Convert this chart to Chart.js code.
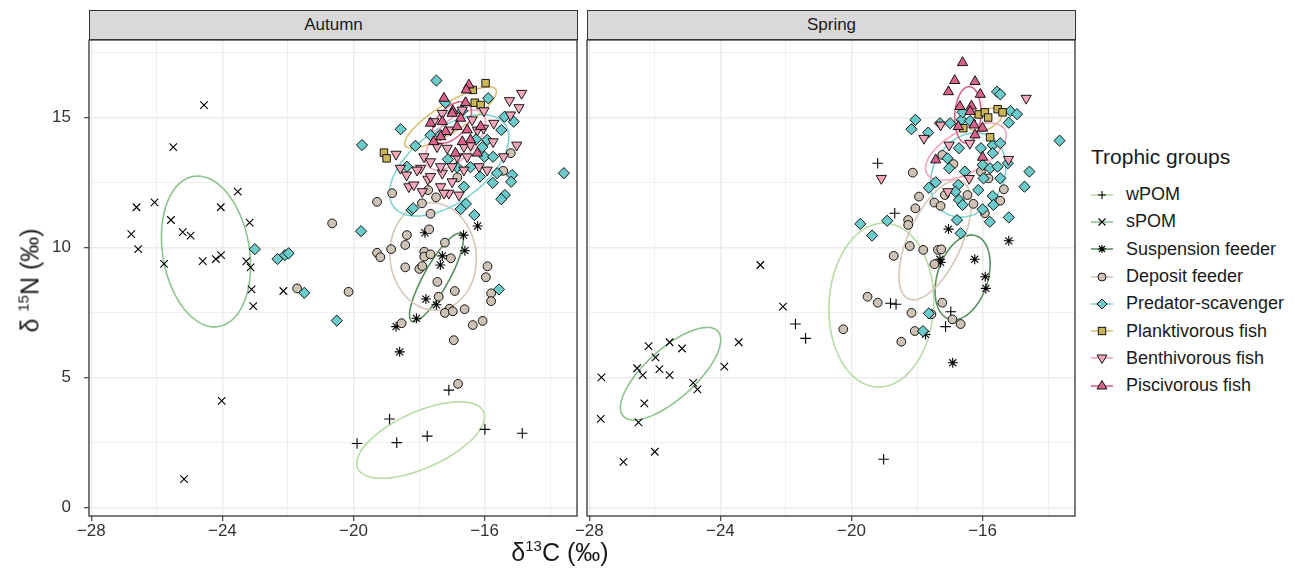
<!DOCTYPE html>
<html>
<head>
<meta charset="utf-8">
<script src="https://cdn.jsdelivr.net/npm/chart.js@4"></script>
<style>
  body { margin: 0; background: #fff; font-family: "Liberation Sans", Arial, sans-serif; color: #1a1a1a; }
  #wrap { position: relative; width: 1298px; height: 576px; overflow: hidden; }
  canvas { position: absolute; top: 0; }
  .strip { position: absolute; top: 10px; height: 30px; background: #d9d9d9; border: 1.3px solid #333;
           box-sizing: border-box; text-align: center; line-height: 28px; font-size: 17px; color: #1a1a1a; }
  .xtitle { position: absolute; left: 430px; width: 260px; top: 538px; text-align: center; font-size: 25px; }
  .ytitle { position: absolute; left: -100px; top: 266px; width: 260px; text-align: center; font-size: 25px; transform: rotate(-90deg); }
  sup { font-size: 60%; vertical-align: 0.7em; line-height: 0; }
  #legend { position: absolute; left: 1091px; top: 145px; }
  #legend .title { font-size: 21px; margin-bottom: 12px; }
  #legend .item { height: 27.3px; display: flex; align-items: center; font-size: 18px; }
  #legend svg { margin-right: 13px; }
</style>
</head>
<body>
<div id="wrap">
  <canvas id="autumnChart" width="579" height="576" style="left:0"></canvas>
  <canvas id="springChart" width="517" height="576" style="left:560px"></canvas>
  <div class="strip" style="left:89px;width:489px">Autumn</div>
  <div class="strip" style="left:587px;width:489px">Spring</div>
  <div class="xtitle">δ<sup>13</sup>C (‰)</div>
  <div class="ytitle">δ <sup>15</sup>N (‰)</div>
  <div id="legend"></div>
</div>
<script>
const groups = ['wPOM', 'sPOM', 'Suspension feeder', 'Deposit feeder', 'Predator-scavenger',
                'Planktivorous fish', 'Benthivorous fish', 'Piscivorous fish'];
const xTicks = [-28, -24, -20, -16];
const yTicks = [0, 5, 10, 15];

// Autumn samples [d13C, d15N]
const autumnWpom = [[-17.09,4.51],[-18.90,3.40],[-19.89,2.46],[-18.68,2.49],[-17.75,2.74],[-15.99,3.00],[-14.85,2.85]];
const autumnSpom = [[-24.56,15.47],[-25.50,13.85],[-23.53,12.14],[-26.62,11.54],[-26.07,11.73],[-24.05,11.54],
  [-23.17,10.95],[-25.57,11.05],[-26.78,10.51],[-25.21,10.58],[-24.97,10.45],[-26.57,9.93],[-25.78,9.36],
  [-24.60,9.47],[-24.20,9.55],[-24.04,9.70],[-23.27,9.46],[-23.14,9.23],[-23.11,8.38],[-22.14,8.32],
  [-23.06,7.74],[-24.02,4.10],[-25.17,1.09]];
const autumnSuspension = [[-16.21,10.82],[-16.64,10.47],[-17.82,10.56],[-16.60,9.87],[-17.29,9.67],[-17.35,9.32],
  [-17.79,8.01],[-17.47,7.79],[-18.08,7.27],[-18.70,6.95],[-18.59,5.98]];
const autumnDeposit = [[-18.82,12.08],[-19.28,11.75],[-17.91,11.69],[-17.48,11.92],[-17.65,11.29],[-20.65,10.92],
  [-17.69,10.69],[-18.37,10.47],[-18.42,10.09],[-17.21,10.18],[-18.85,9.93],[-19.28,9.79],[-19.18,9.62],
  [-17.84,9.83],[-17.84,9.64],[-17.65,9.73],[-17.03,9.58],[-18.42,9.23],[-17.99,9.17],[-17.90,9.28],
  [-15.91,9.27],[-15.96,8.85],[-17.44,8.67],[-20.15,8.29],[-16.91,8.32],[-15.80,8.23],[-15.80,7.93],
  [-17.40,8.10],[-17.07,7.64],[-17.21,7.48],[-16.97,7.54],[-16.61,7.62],[-18.53,7.08],[-16.36,7.01],
  [-16.06,7.17],[-16.94,6.43],[-16.81,4.75],[-17.72,12.20],[-16.83,12.69],[-15.20,13.62],[-15.43,12.94],
  [-21.72,8.42]];
const autumnPredator = [[-23.01,9.93],[-22.32,9.55],[-22.09,9.70],[-21.98,9.77],[-21.50,8.25],[-20.51,7.18],
  [-19.77,10.62],[-15.56,8.38],[-16.31,11.24],[-16.57,11.67],[-16.73,11.47],[-18.23,11.43],[-15.38,12.01],
  [-15.49,11.85],[-19.74,13.93],[-18.56,14.54],[-17.47,16.41],[-13.58,12.85],[-17.20,15.56],[-15.89,15.73],
  [-18.11,13.90],[-17.65,14.31],[-15.39,15.02],[-15.11,14.83],[-15.49,14.51],[-15.92,14.13],[-16.26,14.15],
  [-16.07,13.85],[-16.00,13.48],[-15.74,13.48],[-15.62,12.85],[-15.16,12.78],[-15.19,12.52],[-15.75,12.48],
  [-17.12,13.38],[-16.84,13.08],[-16.63,12.33],[-18.18,11.50],[-16.43,13.08],[-16.14,12.72],[-18.37,13.10],
  [-17.35,14.32],[-16.68,15.25]];
const autumnPlanktivorous = [[-15.97,16.31],[-16.36,16.05],[-16.30,15.56],[-16.12,15.47],[-19.07,13.64],[-18.99,13.42]];
const autumnBenthivorous = [[-14.87,15.92],[-15.24,15.64],[-14.95,15.37],[-16.02,15.25],[-15.21,15.09],[-15.02,13.93],
  [-18.70,13.58],[-18.57,13.04],[-18.38,12.78],[-17.95,13.04],[-18.31,12.33],[-18.16,12.40],[-17.73,12.62],
  [-17.29,12.85],[-17.09,12.08],[-16.78,12.01],[-15.74,14.06],[-15.42,13.48],[-15.72,14.77],[-16.03,14.58],
  [-17.55,14.83],[-17.04,14.51],[-16.38,14.90],[-16.22,14.51],[-17.45,13.87],[-17.14,13.81],[-16.63,13.87],
  [-16.43,13.93],[-17.85,13.48],[-17.65,13.29],[-16.84,13.48],[-16.53,13.48],[-17.34,13.10],[-16.99,13.10],
  [-16.63,12.97],[-16.17,13.10],[-15.92,12.97],[-17.65,12.72],[-16.99,12.52],[-17.34,12.33],[-17.90,12.14],
  [-17.24,12.08],[-18.06,12.97],[-17.29,15.15],[-16.68,15.28]];
const autumnPiscivorous = [[-16.48,16.24],[-16.56,16.05],[-17.24,15.73],[-16.58,15.56],[-16.97,15.25],[-16.73,14.96],
  [-16.99,15.15],[-17.29,14.83],[-17.19,14.45],[-16.84,14.64],[-16.53,14.51],[-17.55,14.06],[-17.34,14.25],
  [-16.43,14.13],[-16.12,14.64],[-16.68,14.06],[-16.89,13.62],[-16.22,13.62],[-17.65,14.77]];

// Spring samples [d13C, d15N]
const springWpom = [[-21.71,7.05],[-21.40,6.50],[-19.20,13.23],[-18.68,11.31],[-18.81,7.85],[-18.64,7.81],
  [-16.97,7.52],[-17.13,6.95],[-19.02,1.85]];
const springSpom = [[-22.78,9.32],[-22.09,7.72],[-23.44,6.35],[-23.88,5.41],[-25.55,6.35],[-26.19,6.20],[-25.17,6.11],
  [-25.98,5.77],[-26.54,5.35],[-26.37,5.09],[-25.86,5.32],[-25.55,5.09],[-27.63,5.00],[-24.83,4.79],[-24.70,4.54],
  [-26.32,4.00],[-27.65,3.40],[-26.50,3.27],[-26.00,2.14],[-26.96,1.75]];
const springSuspension = [[-17.04,10.70],[-15.20,10.25],[-17.30,9.54],[-17.28,9.42],[-16.24,9.54],[-15.92,8.87],
  [-15.90,8.42],[-17.74,6.65],[-16.91,5.56]];
const springDeposit = [[-17.23,13.55],[-16.89,13.20],[-18.13,12.87],[-16.05,12.91],[-15.82,12.65],[-15.35,12.23],
  [-17.94,11.95],[-17.15,12.01],[-16.46,12.01],[-15.46,11.79],[-17.47,11.72],[-17.28,11.59],[-16.28,11.67],
  [-18.05,11.50],[-15.93,11.31],[-18.27,11.05],[-18.27,10.86],[-18.22,10.05],[-17.81,9.90],[-17.36,9.90],
  [-17.26,9.92],[-18.71,9.67],[-17.47,9.35],[-19.51,8.10],[-19.20,7.87],[-17.23,7.87],[-18.17,7.48],
  [-17.56,7.43],[-16.92,7.23],[-16.67,7.05],[-20.25,6.85],[-18.07,6.78],[-18.48,6.37]];
const springPredator = [[-13.65,14.10],[-15.56,15.98],[-15.46,15.88],[-15.15,15.24],[-14.95,15.12],[-15.20,14.79],
  [-18.05,14.90],[-18.17,14.54],[-17.66,14.41],[-17.30,14.77],[-16.99,14.77],[-16.64,14.90],[-16.38,14.86],
  [-16.61,15.19],[-16.72,13.81],[-16.05,13.81],[-15.69,13.93],[-15.46,14.00],[-15.69,13.62],[-16.00,13.17],
  [-15.77,13.04],[-15.54,13.10],[-15.23,13.23],[-14.57,12.91],[-17.07,13.42],[-17.02,13.04],[-16.54,12.91],
  [-15.97,12.65],[-15.46,12.65],[-17.43,12.50],[-17.64,12.29],[-16.74,12.40],[-16.83,12.14],[-16.13,12.20],
  [-14.72,12.33],[-16.72,11.82],[-15.69,11.97],[-15.67,11.63],[-16.61,11.63],[-16.00,11.46],[-15.20,11.15],
  [-16.78,11.05],[-15.78,10.98],[-19.73,10.90],[-18.91,11.02],[-19.37,10.45],[-16.67,10.54],[-17.64,7.46],
  [-17.82,6.78]];
const springPlanktivorous = [[-16.12,15.11],[-15.93,15.19],[-15.83,14.99],[-15.54,15.31],[-15.39,15.19],
  [-15.77,14.23],[-16.59,14.58]];
const springBenthivorous = [[-14.67,15.73],[-19.09,12.65],[-17.79,14.19],[-17.02,13.93],[-16.39,14.00],
  [-15.21,13.38],[-16.41,12.65],[-17.06,12.14],[-17.28,14.70]];
const springPiscivorous = [[-16.61,17.10],[-16.85,16.41],[-16.23,16.37],[-17.04,15.98],[-16.07,15.88],[-16.69,15.41],
  [-16.34,15.43],[-16.38,15.22],[-16.74,14.64],[-16.26,14.70],[-16.00,14.58],[-16.23,14.32],[-17.43,13.36],
  [-16.00,13.46]];

// Ellipses per group: [centre d13C, centre d15N, half width, half height, correlation]
const autumnEllipses = [[-17.95,2.59,1.95,1.47,0.61],[-24.50,9.84,1.36,2.90,-0.19],[-17.47,8.84,0.82,1.70,0.85],
  [-17.57,9.65,1.32,2.07,-0.05],[-17.08,13.15,1.82,1.95,0.55],[-17.04,14.99,1.40,1.18,0.84],
  [-16.89,14.13,0.92,1.15,0.60],[-17.00,14.80,0.60,0.80,0.50]];
const springEllipses = [[-19.09,7.78,1.60,3.15,0.05],[-25.52,5.14,1.53,1.78,0.73],[-16.61,8.84,0.84,1.63,0.32],
  [-17.45,10.28,1.10,2.30,0.60],[-16.44,12.78,1.15,1.62,0.20],[-15.90,14.90,0.50,0.45,0.50],
  [-16.51,13.68,1.23,1.10,0.58],[-16.45,15.09,0.40,1.09,0.10]];

const autumnData = [autumnWpom, autumnSpom, autumnSuspension, autumnDeposit, autumnPredator,
                    autumnPlanktivorous, autumnBenthivorous, autumnPiscivorous];
const springData = [springWpom, springSpom, springSuspension, springDeposit, springPredator,
                    springPlanktivorous, springBenthivorous, springPiscivorous];

const pointStyles = ['cross', 'crossRot', 'star', 'circle', 'rectRot', 'rect', 'triangle', 'triangle'];
const pointRotation = [0, 0, 0, 0, 0, 0, 180, 0];
const pointRadius = [5.3, 5.3, 5, 4.4, 5.6, 5.3, 5.9, 5.9];
const pointFill = ['#000', '#000', '#000', '#cdc2b4', '#6ccaca', '#c9b55a', '#f3a8ba', '#d9648b'];
const lineColors = ['#b6dca8', '#8dc48e', '#5c8f5f', '#d5c7b7', '#7fd2d2', '#d7c273', '#f3a6b9', '#d8648c'];

const FONT = '"Liberation Sans", Arial, sans-serif';
const minus = v => String(v).replace('-', '\u2212');

const ellipsePlugin = {
  id: 'ellipses',
  beforeDatasetsDraw(chart, args, opts) {
    const { ctx, chartArea: a, scales: { x, y } } = chart;
    ctx.save();
    ctx.beginPath();
    ctx.rect(a.left, a.top, a.right - a.left, a.bottom - a.top);
    ctx.clip();
    opts.list.forEach((e, g) => {
      const [cx, cy, rx, ry, rho] = e;
      const phi = Math.acos(rho);
      ctx.beginPath();
      for (let i = 0; i <= 120; i++) {
        const t = i / 120 * 2 * Math.PI;
        const px = x.getPixelForValue(cx + rx * Math.cos(t));
        const py = y.getPixelForValue(cy + ry * Math.cos(t - phi));
        if (i === 0) ctx.moveTo(px, py); else ctx.lineTo(px, py);
      }
      ctx.strokeStyle = lineColors[g];
      ctx.lineWidth = 1.6;
      ctx.stroke();
    });
    ctx.restore();
  }
};

const framePlugin = {
  id: 'frame',
  afterDraw(chart) {
    const { ctx, chartArea: a } = chart;
    ctx.save();
    ctx.strokeStyle = '#333';
    ctx.lineWidth = 1.3;
    ctx.strokeRect(a.left, a.top, a.right - a.left, a.bottom - a.top);
    ctx.restore();
  }
};

function makeChart(id, data, ellipses, withYAxis, padding) {
  const datasets = data.map((pts, g) => ({
    label: groups[g],
    data: pts.map(p => ({ x: p[0], y: p[1] })),
    pointStyle: pointStyles[g],
    rotation: pointRotation[g],
    pointRadius: pointRadius[g],
    backgroundColor: pointFill[g],
    borderColor: '#000',
    borderWidth: g < 3 ? 1.1 : 0.9,
    order: groups.length - g
  }));
  const isMajorX = v => xTicks.includes(v);
  const isMajorY = v => yTicks.includes(v);
  return new Chart(document.getElementById(id), {
    type: 'scatter',
    data: { datasets },
    plugins: [ellipsePlugin, framePlugin],
    options: {
      responsive: false,
      animation: false,
      layout: { padding, autoPadding: false },
      plugins: {
        legend: { display: false },
        tooltip: { enabled: false },
        ellipses: { list: ellipses }
      },
      scales: {
        x: {
          type: 'linear', min: -28.07, max: -13.18,
          afterFit: s => { s.height = 60; s.paddingLeft = 0; s.paddingRight = 0; },
          border: { display: false },
          grid: {
            color: '#ebebeb',
            lineWidth: c => (c.tick && isMajorX(c.tick.value)) ? 1.4 : 0.8,
            tickColor: c => (c.tick && isMajorX(c.tick.value)) ? '#333' : 'rgba(0,0,0,0)',
            tickLength: 5, tickWidth: 1.1
          },
          ticks: {
            stepSize: 2, includeBounds: false, autoSkip: false, maxRotation: 0, padding: 0,
            color: '#333', font: { family: FONT, size: 17 },
            callback: v => isMajorX(v) ? minus(v) : ''
          }
        },
        y: {
          type: 'linear', min: -0.33, max: 17.97,
          afterFit: s => { s.width = withYAxis ? 89 : 0; s.paddingTop = 0; s.paddingBottom = 0; },
          border: { display: false },
          grid: {
            color: '#ebebeb',
            lineWidth: c => (c.tick && isMajorY(c.tick.value)) ? 1.4 : 0.8,
            tickColor: c => (c.tick && isMajorY(c.tick.value)) ? '#333' : 'rgba(0,0,0,0)',
            drawTicks: withYAxis, tickLength: 5, tickWidth: 1.1
          },
          ticks: {
            display: withYAxis, stepSize: 2.5, includeBounds: false, autoSkip: false, padding: 13,
            color: '#333', font: { family: FONT, size: 17 },
            callback: v => isMajorY(v) ? minus(v) : ''
          }
        }
      }
    }
  });
}

makeChart('autumnChart', autumnData, autumnEllipses, true, { top: 40, right: 2, left: 0, bottom: 0 });
makeChart('springChart', springData, springEllipses, false, { top: 40, right: 2, left: 27, bottom: 0 });

// legend: marker over a short line in the ellipse colour
function markerSvg(g) {
  const c = 11, m = 7, f = pointFill[g];
  let shape = '';
  if (g === 0) shape = `<path d="M${c-4} ${m}H${c+4}M${c} ${m-4}V${m+4}" stroke="#000" stroke-width="1.1"/>`;
  else if (g === 1) shape = `<path d="M${c-3.5} ${m-3.5}L${c+3.5} ${m+3.5}M${c-3.5} ${m+3.5}L${c+3.5} ${m-3.5}" stroke="#000" stroke-width="1.1"/>`;
  else if (g === 2) shape = `<path d="M${c-4} ${m}H${c+4}M${c} ${m-4}V${m+4}M${c-3} ${m-3}L${c+3} ${m+3}M${c-3} ${m+3}L${c+3} ${m-3}" stroke="#000" stroke-width="1.1"/>`;
  else if (g === 3) shape = `<circle cx="${c}" cy="${m}" r="4" fill="${f}" stroke="#000" stroke-width="0.9"/>`;
  else if (g === 4) shape = `<path d="M${c} ${m-5}L${c+5} ${m}L${c} ${m+5}L${c-5} ${m}Z" fill="${f}" stroke="#000" stroke-width="0.9"/>`;
  else if (g === 5) shape = `<rect x="${c-3.7}" y="${m-3.7}" width="7.4" height="7.4" fill="${f}" stroke="#000" stroke-width="0.9"/>`;
  else if (g === 6) shape = `<path d="M${c-5} ${m-3}L${c+5} ${m-3}L${c} ${m+5.5}Z" fill="${f}" stroke="#000" stroke-width="0.9"/>`;
  else shape = `<path d="M${c-5} ${m+3}L${c+5} ${m+3}L${c} ${m-5.5}Z" fill="${f}" stroke="#000" stroke-width="0.9"/>`;
  return `<svg width="22" height="14"><line x1="0" y1="${m}" x2="22" y2="${m}" stroke="${lineColors[g]}" stroke-width="1.6"/>${shape}</svg>`;
}
const legend = document.getElementById('legend');
legend.innerHTML = '<div class="title">Trophic groups</div>' +
  groups.map((name, g) => `<div class="item">${markerSvg(g)}<span>${name}</span></div>`).join('');
</script>
</body>
</html>
